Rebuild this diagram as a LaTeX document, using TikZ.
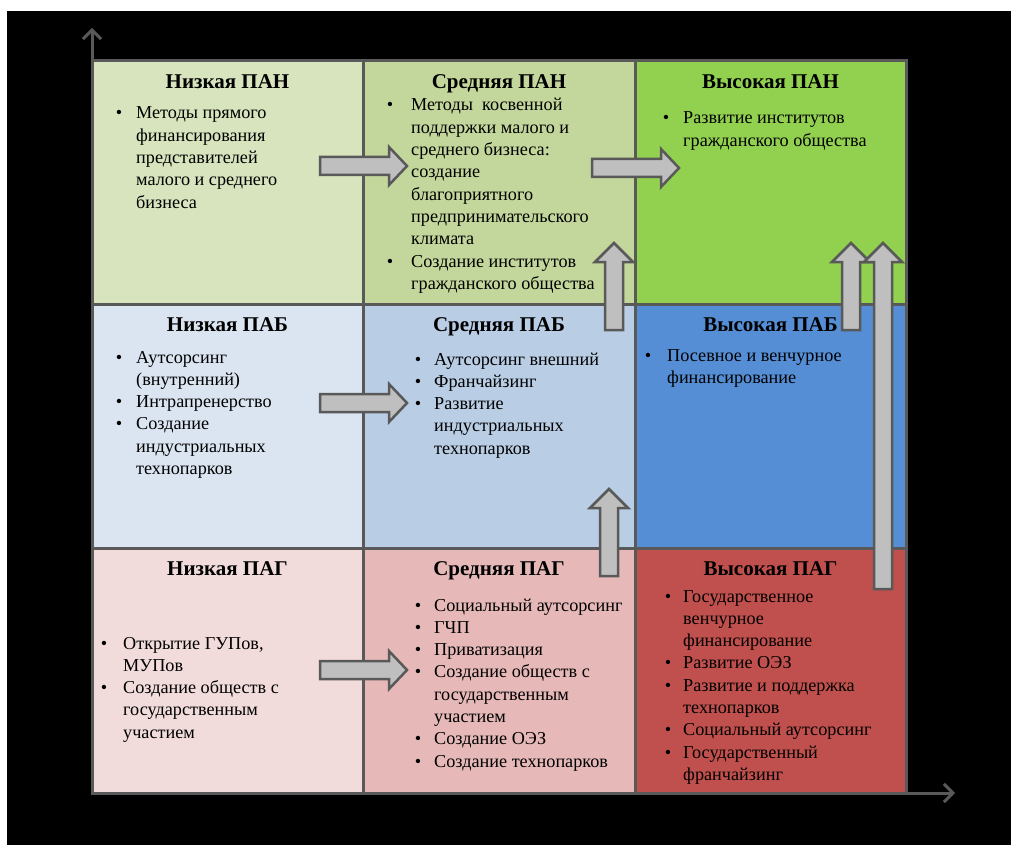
\documentclass[tikz,border=0pt]{standalone}
\usepackage{fontspec}
\setmainfont{Liberation Serif}
\usetikzlibrary{arrows.meta}

\definecolor{linegray}{HTML}{595959}
\definecolor{arrowgray}{HTML}{BFBFBF}
\definecolor{panlow}{HTML}{D7E4BD}
\definecolor{panmid}{HTML}{C3D69B}
\definecolor{panhigh}{HTML}{92D050}
\definecolor{pablow}{HTML}{DBE5F1}
\definecolor{pabmid}{HTML}{B9CDE5}
\definecolor{pabhigh}{HTML}{558ED5}
\definecolor{paglow}{HTML}{F2DCDB}
\definecolor{pagmid}{HTML}{E6B9B8}
\definecolor{paghigh}{HTML}{C0504D}

\tikzset{
    grid/.style={draw=linegray, line width=3pt},
    axis/.style={draw=linegray, line width=3pt, -{Straight Barb[length=9pt, width=18pt, line width=3pt]}},
    title/.style={anchor=base, inner sep=0pt, font=\bfseries\fontsize{21}{24}\selectfont},
    items/.style={anchor=base west, inner sep=0pt, font=\fontsize{18.2}{22.3}\selectfont},
    blockarrow/.style={fill=arrowgray, draw=linegray, line width=2.5pt, line join=miter},
}
\newcommand{\bul}[1][14pt]{\llap{\textbullet\hspace{#1}}}
\newcommand{\lines}[1]{\begin{tabular}[t]{@{}l@{}}#1\end{tabular}}
% block arrows: start, tip, centre line
\newcommand{\rightblock}[3]{\draw[blockarrow] (#1,#3-9) -- (#2-18,#3-9) -- (#2-18,#3-19) -- (#2,#3) -- (#2-18,#3+19) -- (#2-18,#3+9) -- (#1,#3+9) -- cycle;}
\newcommand{\upblock}[3]{\draw[blockarrow] (#3-9,#1) -- (#3-9,#2+19) -- (#3-19,#2+19) -- (#3,#2) -- (#3+19,#2+19) -- (#3+9,#2+19) -- (#3+9,#1) -- cycle;}

\begin{document}
\begin{tikzpicture}[x=1pt, y=-1pt]
    \useasboundingbox (0,0) rectangle (1011,845);
    \fill[black] (7,11) rectangle (1011,845);

    % cells
    \fill[panlow]  (92,61) rectangle (363,304);
    \fill[panmid]  (363,61) rectangle (635,304);
    \fill[panhigh] (635,61) rectangle (906,304);
    \fill[pablow]  (92,304) rectangle (363,548);
    \fill[pabmid]  (363,304) rectangle (635,548);
    \fill[pabhigh] (635,304) rectangle (906,548);
    \fill[paglow]  (92,548) rectangle (363,793);
    \fill[pagmid]  (363,548) rectangle (635,793);
    \fill[paghigh] (635,548) rectangle (906,793);
    \draw[grid] (92,61) rectangle (906,793);
    \draw[grid] (363,61) -- (363,793) (635,61) -- (635,793);
    \draw[grid] (92,304) -- (906,304) (92,548) -- (906,548);

    % axes
    \coordinate (origin) at (92,793);
    \coordinate (ytip) at (92,28);
    \coordinate (xtip) at (955,793);
    \draw[axis] (origin) -- (ytip);
    \draw[axis] (origin) -- (xtip);

    % titles
    \node[title] (t-panlow)  at (227.5,88.5) {Низкая ПАН};
    \node[title] (t-panmid)  at (499,88.5)   {Средняя ПАН};
    \node[title] (t-panhigh) at (770.5,88.5) {Высокая ПАН};
    \node[title] (t-pablow)  at (227.5,331)  {Низкая ПАБ};
    \node[title] (t-pabmid)  at (499,331)    {Средняя ПАБ};
    \node[title] (t-pabhigh) at (770.5,331)  {Высокая ПАБ};
    \node[title] (t-paglow)  at (227.5,575)  {Низкая ПАГ};
    \node[title] (t-pagmid)  at (499,575)    {Средняя ПАГ};
    \node[title] (t-paghigh) at (770.5,575)  {Высокая ПАГ};

    % lists
    \node[items] (l-panlow) at (136,119) {\lines{\bul Методы прямого\\финансирования\\представителей\\малого и среднего\\бизнеса}};
    \node[items] (l-panmid) at (411,111) {\lines{\bul[18pt]Методы\ \ косвенной\\поддержки малого и\\среднего бизнеса:\\создание\\благоприятного\\предпринимательского\\климата\\\bul[18pt]Создание институтов\\гражданского общества}};
    \node[items] (l-panhigh) at (683,124) {\lines{\bul Развитие институтов\\гражданского общества}};
    \node[items] (l-pablow) at (136,363) {\lines{\bul Аутсорсинг\\(внутренний)\\\bul Интрапренерство\\\bul Создание\\индустриальных\\технопарков}};
    \node[items] (l-pabmid) at (434,365) {\lines{\bul[13pt]Аутсорсинг внешний\\\bul[13pt]Франчайзинг\\\bul[13pt]Развитие\\индустриальных\\технопарков}};
    \node[items] (l-pabhigh) at (667,361) {\lines{\bul[16pt]Посевное и венчурное\\финансирование}};
    \node[items] (l-paglow) at (123,649) {\lines{\bul[16pt]Открытие ГУПов,\\МУПов\\\bul[16pt]Создание обществ с\\государственным\\участием}};
    \node[items] (l-pagmid) at (434,611) {\lines{\bul[13pt]Социальный аутсорсинг\\\bul[13pt]ГЧП\\\bul[13pt]Приватизация\\\bul[13pt]Создание обществ с\\государственным\\участием\\\bul[13pt]Создание ОЭЗ\\\bul[13pt]Создание технопарков}};
    \node[items] (l-paghigh) at (683,602) {\lines{\bul[12pt]Государственное\\венчурное\\финансирование\\\bul[12pt]Развитие ОЭЗ\\\bul[12pt]Развитие и поддержка\\технопарков\\\bul[12pt]Социальный аутсорсинг\\\bul[12pt]Государственный\\франчайзинг}};

    % transitions
    \rightblock{320}{407}{166}
    \rightblock{592}{679}{168}
    \rightblock{320}{407}{403}
    \rightblock{320}{407}{670}
    \upblock{330}{243}{614}
    \upblock{576}{489}{609}
    \upblock{330}{243}{851}
    \upblock{589}{243}{883}
\end{tikzpicture}
\end{document}
